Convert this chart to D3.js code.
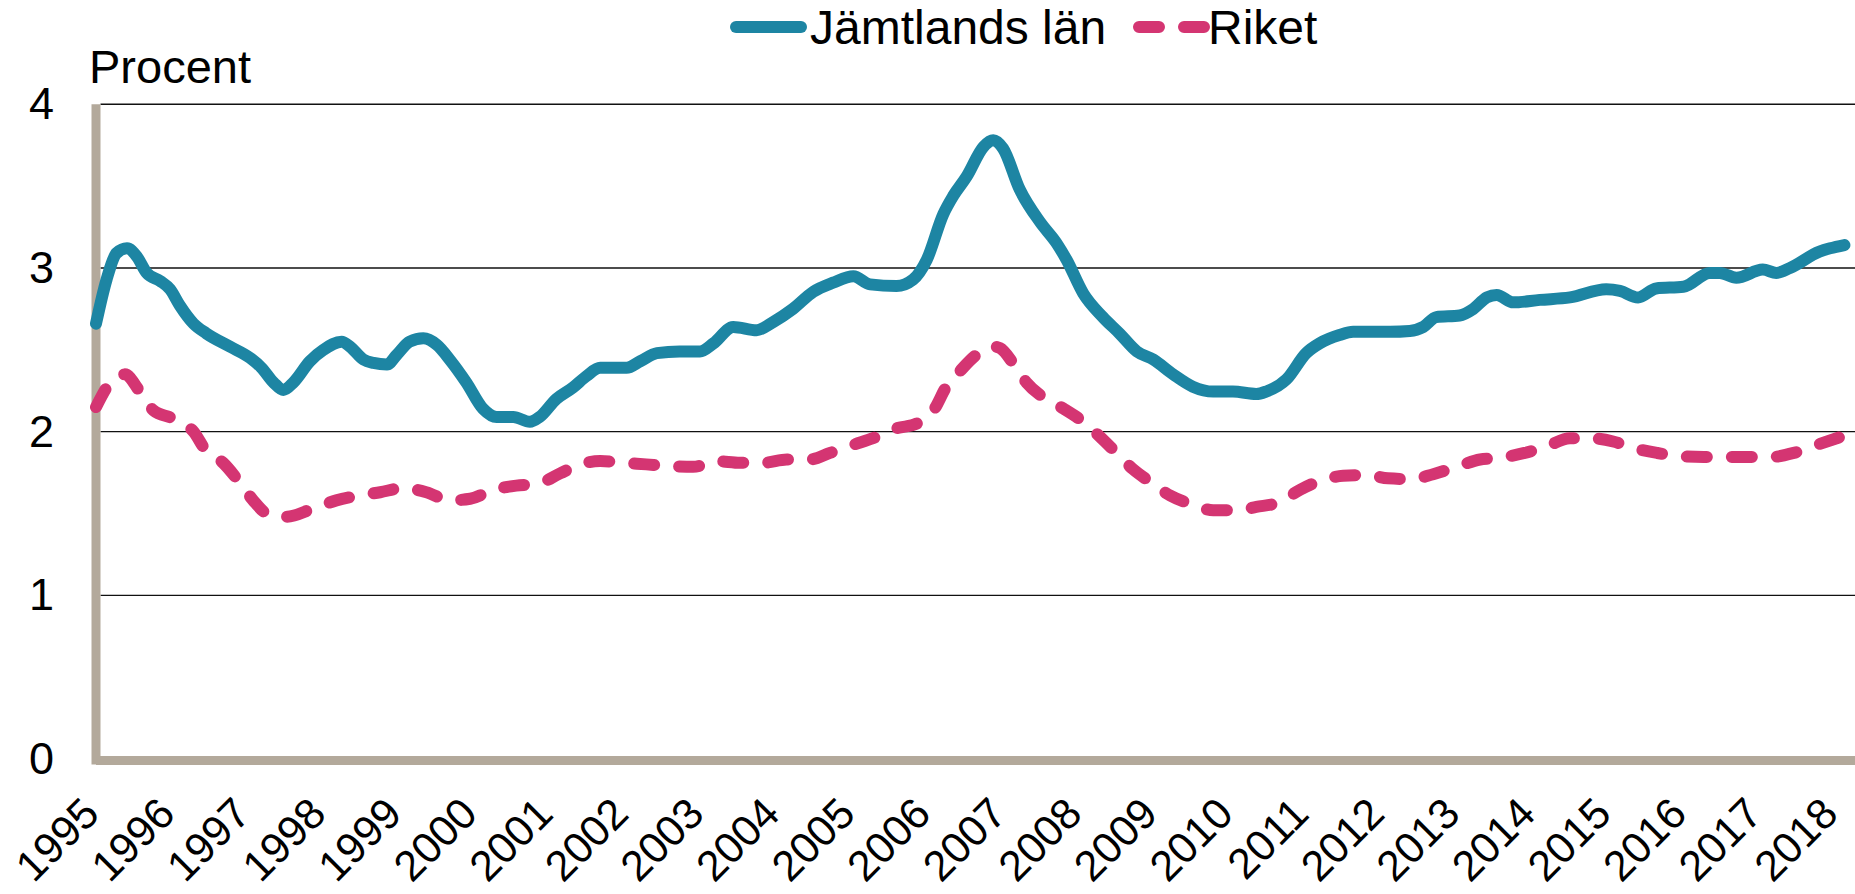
<!DOCTYPE html>
<html>
<head>
<meta charset="utf-8">
<script src="https://cdn.jsdelivr.net/npm/d3@7"></script>
<style>
  body { margin: 0; background: #ffffff; }
  svg { display: block; }
</style>
</head>
<body>
<div class="chart"></div>
<script>
// series (decimal year, percent)
let jamtYears = [1995.00, 1995.14, 1995.27, 1995.41, 1995.54, 1995.67, 1995.85, 1995.98, 1996.11, 1996.29, 1996.46, 1996.77, 1997.04, 1997.19, 1997.35, 1997.48, 1997.61, 1997.83, 1998.01, 1998.25, 1998.36, 1998.54, 1998.67, 1998.85, 1998.98, 1999.15, 1999.33, 1999.51, 1999.68, 1999.90, 2000.12, 2000.30, 2000.52, 2000.74, 2000.87, 2001.09, 2001.31, 2001.49, 2001.67, 2002.02, 2002.20, 2002.42, 2002.72, 2002.99, 2003.17, 2003.43, 2003.74, 2003.96, 2004.22, 2004.49, 2004.75, 2005.02, 2005.24, 2005.59, 2005.81, 2005.99, 2006.21, 2006.34, 2006.52, 2006.74, 2006.87, 2007.00, 2007.22, 2007.49, 2007.71, 2007.84, 2008.06, 2008.32, 2008.54, 2008.77, 2008.99, 2009.25, 2009.51, 2009.78, 2010.04, 2010.35, 2010.48, 2010.75, 2011.01, 2011.19, 2011.45, 2011.63, 2011.90, 2012.12, 2012.38, 2012.56, 2012.73, 2013.04, 2013.22, 2013.40, 2013.53, 2013.75, 2014.10, 2014.50, 2014.98, 2015.16, 2015.40, 2015.64, 2016.00, 2016.35, 2016.48, 2016.70, 2017.05, 2017.23, 2017.41, 2017.80, 2017.94, 2018.13];
let jamtValues = [2.66, 2.93, 3.09, 3.12, 3.07, 2.97, 2.92, 2.87, 2.77, 2.66, 2.60, 2.52, 2.45, 2.39, 2.30, 2.255, 2.30, 2.43, 2.50, 2.55, 2.52, 2.44, 2.42, 2.41, 2.47, 2.55, 2.57, 2.53, 2.44, 2.30, 2.14, 2.09, 2.09, 2.06, 2.09, 2.20, 2.27, 2.34, 2.39, 2.39, 2.43, 2.48, 2.49, 2.49, 2.54, 2.64, 2.62, 2.67, 2.75, 2.855, 2.91, 2.95, 2.90, 2.89, 2.93, 3.05, 3.33, 3.44, 3.56, 3.74, 3.78, 3.73, 3.48, 3.28, 3.15, 3.05, 2.845, 2.70, 2.60, 2.49, 2.44, 2.35, 2.275, 2.245, 2.245, 2.23, 2.245, 2.32, 2.48, 2.54, 2.59, 2.61, 2.61, 2.61, 2.615, 2.64, 2.70, 2.71, 2.75, 2.82, 2.835, 2.79, 2.805, 2.82, 2.87, 2.86, 2.82, 2.875, 2.885, 2.97, 2.97, 2.94, 2.99, 2.97, 3.00, 3.10, 3.12, 3.14];

let riketYears = [1995.00, 1995.19, 1995.38, 1995.58, 1995.76, 1996.02, 1996.29, 1996.46, 1996.68, 1996.90, 1997.08, 1997.30, 1997.52, 1997.87, 1998.18, 1998.49, 1998.76, 1999.06, 1999.37, 1999.68, 1999.95, 2000.26, 2000.56, 2000.83, 2001.14, 2001.40, 2001.67, 2001.97, 2002.28, 2002.59, 2002.90, 2003.21, 2003.52, 2003.83, 2004.14, 2004.44, 2004.71, 2005.02, 2005.28, 2005.59, 2005.86, 2006.08, 2006.25, 2006.43, 2006.65, 2006.87, 2006.96, 2007.13, 2007.31, 2007.53, 2007.80, 2008.06, 2008.28, 2008.50, 2008.72, 2008.94, 2009.21, 2009.47, 2009.78, 2010.09, 2010.35, 2010.66, 2010.93, 2011.23, 2011.50, 2011.81, 2012.09, 2012.40, 2012.69, 2013.00, 2013.31, 2013.57, 2013.90, 2014.19, 2014.50, 2014.76, 2015.07, 2015.34, 2015.65, 2015.96, 2016.27, 2016.58, 2016.84, 2017.15, 2017.46, 2017.77, 2018.13];
let riketValues = [2.15, 2.30, 2.35, 2.245, 2.13, 2.08, 2.00, 1.88, 1.81, 1.69, 1.58, 1.49, 1.48, 1.53, 1.58, 1.61, 1.63, 1.655, 1.63, 1.58, 1.59, 1.645, 1.67, 1.68, 1.745, 1.80, 1.82, 1.81, 1.80, 1.79, 1.785, 1.82, 1.81, 1.81, 1.83, 1.83, 1.87, 1.92, 1.96, 2.02, 2.05, 2.13, 2.275, 2.37, 2.47, 2.52, 2.51, 2.42, 2.30, 2.21, 2.14, 2.06, 1.97, 1.87, 1.77, 1.695, 1.61, 1.56, 1.52, 1.52, 1.54, 1.57, 1.645, 1.705, 1.73, 1.735, 1.715, 1.71, 1.74, 1.785, 1.83, 1.84, 1.87, 1.91, 1.96, 1.96, 1.94, 1.90, 1.87, 1.85, 1.845, 1.845, 1.845, 1.845, 1.87, 1.92, 1.975];

// tick labels
let yearLabels = [1995, 1996, 1997, 1998, 1999, 2000, 2001, 2002, 2003, 2004, 2005, 2006, 2007, 2008, 2009, 2010, 2011, 2012, 2013, 2014, 2015, 2016, 2017, 2018];
let yTicks = [0, 1, 2, 3, 4];
let seriesNames = ["Jämtlands län", "Riket"];

// Exposed variables
let attrs = {
  width: 1855,
  height: 894,
  left: 96, // y axis line
  right: 1855,
  top: 104.3, // y = 4
  bottom: 759, // y = 0
  xEnd: 2018.27, // year at the right edge
  teal: "#1d85a3",
  pink: "#d43572",
  axisColor: "#b3a99b",
  font: "'Liberation Sans', Arial, sans-serif",
  lineWidth: 12,
};

let svg = d3
  .select(".chart")
  .append("svg")
  .attr("width", attrs.width)
  .attr("height", attrs.height);

let x = d3.scaleLinear().domain([1995, attrs.xEnd]).range([attrs.left, attrs.right]);
let y = d3.scaleLinear().domain([0, 4]).range([attrs.bottom, attrs.top]);

// gridlines
svg
  .append("g")
  .selectAll("line")
  .data(yTicks.filter((d) => d > 0))
  .enter()
  .append("line")
  .attr("x1", attrs.left + 4.5)
  .attr("x2", attrs.right)
  .attr("y1", (d) => y(d))
  .attr("y2", (d) => y(d))
  .attr("stroke", "#111")
  .attr("stroke-width", 1.4);

// y axis labels
let yAxis = svg
  .append("g")
  .attr("transform", "translate(" + attrs.left + ",0)")
  .call(d3.axisLeft(y).tickValues(yTicks).tickSize(0).tickPadding(42).tickFormat(d3.format("d")));
yAxis.select(".domain").remove();
yAxis
  .selectAll("text")
  .attr("font-family", attrs.font)
  .attr("font-size", 45)
  .attr("fill", "#000");

// x axis labels, rotated
let xAxis = svg
  .append("g")
  .attr("transform", "translate(0," + attrs.bottom + ")")
  .call(d3.axisBottom(x).tickValues(yearLabels).tickSize(0).tickFormat(d3.format("d")));
xAxis.select(".domain").remove();
xAxis
  .selectAll("text")
  .attr("font-family", attrs.font)
  .attr("font-size", 43)
  .attr("fill", "#000")
  .attr("text-anchor", "end")
  .attr("dy", 0)
  .attr("y", 0)
  .attr("transform", "translate(5,57) rotate(-45)");

// axis lines
svg
  .append("line")
  .attr("x1", attrs.left)
  .attr("x2", attrs.left)
  .attr("y1", attrs.top)
  .attr("y2", attrs.bottom + 5.5)
  .attr("stroke", attrs.axisColor)
  .attr("stroke-width", 9);
svg
  .append("line")
  .attr("x1", attrs.left)
  .attr("x2", attrs.right)
  .attr("y1", attrs.bottom + 1.5)
  .attr("y2", attrs.bottom + 1.5)
  .attr("stroke", attrs.axisColor)
  .attr("stroke-width", 9);

// lines
let line = d3
  .line()
  .x((d) => x(d[0]))
  .y((d) => y(d[1]))
  .curve(d3.curveMonotoneX);

svg
  .append("path")
  .datum(d3.zip(riketYears, riketValues))
  .attr("d", line)
  .attr("fill", "none")
  .attr("stroke", attrs.pink)
  .attr("stroke-width", attrs.lineWidth)
  .attr("stroke-linecap", "round")
  .attr("stroke-linejoin", "round")
  .attr("stroke-dasharray", "20,25");

svg
  .append("path")
  .datum(d3.zip(jamtYears, jamtValues))
  .attr("d", line)
  .attr("fill", "none")
  .attr("stroke", attrs.teal)
  .attr("stroke-width", attrs.lineWidth)
  .attr("stroke-linecap", "round")
  .attr("stroke-linejoin", "round");

// unit label
svg
  .append("text")
  .attr("x", 89)
  .attr("y", 83)
  .attr("font-family", attrs.font)
  .attr("font-size", 47)
  .attr("fill", "#000")
  .text("Procent");

// legend
let legend = svg.append("g");
legend
  .append("line")
  .attr("x1", 736)
  .attr("x2", 801)
  .attr("y1", 27)
  .attr("y2", 27)
  .attr("stroke", attrs.teal)
  .attr("stroke-width", attrs.lineWidth)
  .attr("stroke-linecap", "round");
legend
  .append("text")
  .attr("x", 810)
  .attr("y", 44)
  .attr("font-family", attrs.font)
  .attr("font-size", 48)
  .attr("fill", "#000")
  .text(seriesNames[0]);
legend
  .append("line")
  .attr("x1", 1139)
  .attr("x2", 1204)
  .attr("y1", 27)
  .attr("y2", 27)
  .attr("stroke", attrs.pink)
  .attr("stroke-width", attrs.lineWidth)
  .attr("stroke-linecap", "round")
  .attr("stroke-dasharray", "20,25");
legend
  .append("text")
  .attr("x", 1208)
  .attr("y", 44)
  .attr("font-family", attrs.font)
  .attr("font-size", 48)
  .attr("fill", "#000")
  .text(seriesNames[1]);
</script>
</body>
</html>
